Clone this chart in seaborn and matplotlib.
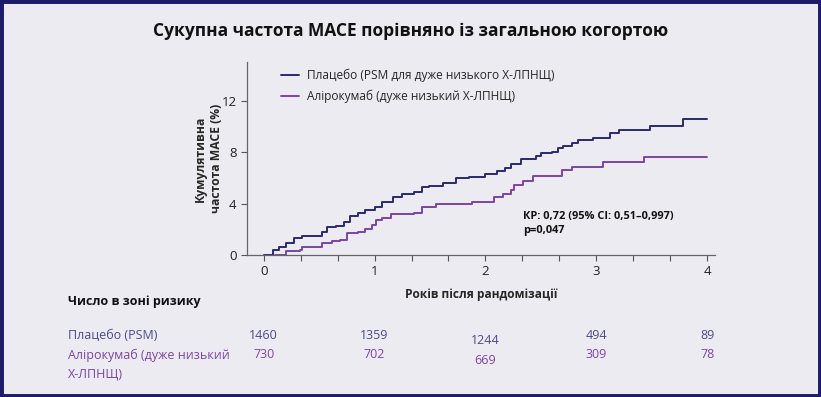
import numpy as np
import pandas as pd
import matplotlib
matplotlib.use("Agg")
import matplotlib.pyplot as plt
import matplotlib.transforms as mtransforms
from matplotlib.patches import Rectangle
import seaborn as sns

# Kaplan-Meier steps (years, cumulative %)
placebo_t = [0.0, 0.08, 0.14, 0.2, 0.27, 0.35, 0.53, 0.57, 0.65, 0.72, 0.78, 0.85, 0.91, 1.0,
             1.07, 1.17, 1.25, 1.36, 1.43, 1.49, 1.62, 1.73, 1.85, 2.0, 2.1, 2.18, 2.23, 2.32,
             2.46, 2.5, 2.6, 2.65, 2.7, 2.78, 2.83, 2.97, 3.12, 3.2, 3.48, 3.78, 4.0]
placebo_y = [0.0, 0.4, 0.65, 0.9, 1.3, 1.5, 1.75, 2.2, 2.25, 2.55, 3.0, 3.25, 3.5, 3.75,
             4.15, 4.5, 4.75, 4.9, 5.25, 5.35, 5.6, 5.95, 6.1, 6.3, 6.5, 6.8, 7.1, 7.45,
             7.7, 7.9, 8.0, 8.3, 8.5, 8.7, 8.95, 9.1, 9.45, 9.7, 10.0, 10.6, 10.6]
aliro_t = [0.1, 0.2, 0.33, 0.35, 0.53, 0.62, 0.69, 0.75, 0.85, 0.91, 0.98, 1.01, 1.07, 1.15,
           1.36, 1.43, 1.55, 1.88, 2.06, 2.08, 2.16, 2.23, 2.26, 2.34, 2.43, 2.69, 2.78, 3.06,
           3.43, 4.0]
aliro_y = [0.0, 0.3, 0.4, 0.65, 0.9, 1.05, 1.2, 1.7, 1.8, 2.0, 2.3, 2.7, 2.85, 3.2,
           3.25, 3.75, 3.95, 4.1, 4.15, 4.5, 4.75, 5.05, 5.45, 5.75, 6.15, 6.6, 6.85, 7.2,
           7.65, 7.65]

arms = ["Плацебо (PSM для дуже низького Х-ЛПНЩ)", "Алірокумаб (дуже низький Х-ЛПНЩ)"]
risk_years = [0, 1, 2, 3, 4]
risk_placebo = [1460, 1359, 1244, 494, 89]
risk_aliro = [730, 702, 669, 309, 78]

navy = "#2b2970"
purple = "#7b44a6"
bg = "#ecebf2"

df = pd.concat([
    pd.DataFrame({"t": placebo_t, "y": placebo_y, "arm": arms[0]}),
    pd.DataFrame({"t": aliro_t, "y": aliro_y, "arm": arms[1]}),
])

sns.set_theme(style="ticks")
plt.rcParams["font.family"] = ["Open Sans", "DejaVu Sans"]

fig = plt.figure(figsize=(8.21, 3.97), dpi=100, facecolor=bg)
ax = fig.add_axes([0.3009, 0.3577, 0.570, 0.4861])
ax.set_facecolor(bg)

sns.lineplot(data=df, x="t", y="y", hue="arm", palette=[navy, purple], estimator=None,
             sort=False, drawstyle="steps-post", linewidth=1.4, ax=ax)

ax.set_xlim(-0.15, 4.07)
ax.set_ylim(0, 15)
ax.set_xticks([0, 1, 2, 3, 4])
ax.set_xticks([k / 3 for k in range(13) if k % 3 != 0], minor=True)
ax.set_yticks([0, 4, 8, 12])
ax.tick_params(axis="both", which="both", direction="out", length=4, width=0.8,
               color="#555555", labelsize=9.5, labelcolor="#222222")
for s in ["top", "right"]:
    ax.spines[s].set_visible(False)
for s in ["left", "bottom"]:
    ax.spines[s].set_color("#666666")
    ax.spines[s].set_linewidth(0.9)

ax.set_xlabel("Років після рандомізації", fontsize=8.6, fontweight="bold", labelpad=7)
ax.set_ylabel("Кумулятивна\nчастота MACE (%)", fontsize=8.7, fontweight="bold",
              linespacing=1.25)
ax.yaxis.set_label_coords(-0.052, 0.5)

leg = ax.legend(loc="upper left", bbox_to_anchor=(0.049, 1.02), frameon=False, fontsize=8.6,
                handlelength=1.5, handletextpad=0.7, labelspacing=0.62)
for line in leg.get_lines():
    line.set_linewidth(1.4)

ax.text(0.59, 0.228, "КР: 0,72 (95% CI: 0,51–0,997)\np=0,047", transform=ax.transAxes,
        fontsize=7.9, fontweight="bold", color="#111111", va="top", linespacing=1.4)

fig.text(0.5, 0.922, "Сукупна частота MACE порівняно із загальною когортою",
         ha="center", va="center", fontsize=12.5, fontweight="bold", color="#111111")

# number at risk table
fig.text(0.083, 0.24, "Число в зоні ризику", fontsize=9, fontweight="bold",
         color="#111111", va="center")
fig.text(0.083, 0.155, "Плацебо (PSM)", fontsize=9, color="#4a4a8c", va="center")
fig.text(0.083, 0.106, "Алірокумаб (дуже низький", fontsize=9, color=purple, va="center")
fig.text(0.083, 0.058, "Х-ЛПНЩ)", fontsize=9, color=purple, va="center")

trans = mtransforms.blended_transform_factory(ax.transData, fig.transFigure)
for yr, p, a in zip(risk_years, risk_placebo, risk_aliro):
    dy = 0.013 if yr == 2 else 0.0
    ax.text(yr, 0.155 - dy, str(p), transform=trans, ha="center", va="center",
            fontsize=9, color="#4a4a8c")
    ax.text(yr, 0.106 - dy, str(a), transform=trans, ha="center", va="center",
            fontsize=9, color=purple)

fig.patches.append(Rectangle((0, 0), 1, 1, transform=fig.transFigure, fill=False,
                             edgecolor="#1f1b6b", linewidth=5, zorder=10))

fig.savefig("out.png", dpi=100, facecolor=bg)
